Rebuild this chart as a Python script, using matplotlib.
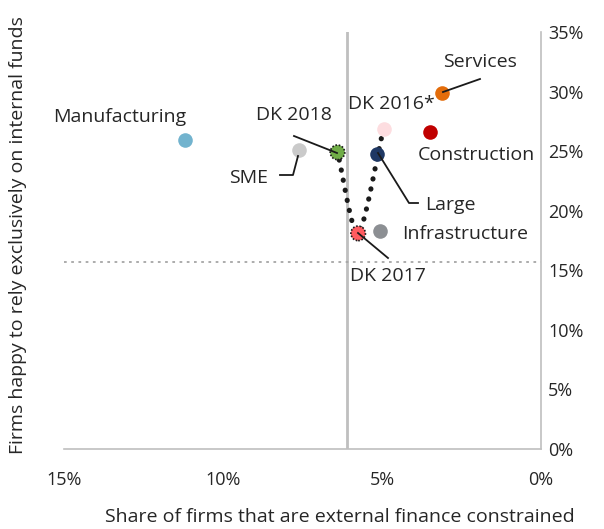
import numpy as np
import matplotlib
matplotlib.use("Agg")
import matplotlib.pyplot as plt
from matplotlib.lines import Line2D

plt.rcParams['font.family'] = ['Open Sans', 'DejaVu Sans']

# Data (percent)
names = ["Manufacturing", "SME", "DK 2018", "DK 2017", "DK 2016*", "Large",
         "Infrastructure", "Construction", "Services"]
x_constrained = [11.2, 7.6, 6.4, 5.75, 4.95, 5.15, 5.05, 3.5, 3.1]
y_internal = [25.9, 25.1, 24.9, 18.1, 26.9, 24.8, 18.3, 26.6, 29.9]
colors = ["#72B3CE", "#CACACA", "#70AD47", "#FF5B60", "#FDDDE0", "#1F3864",
          "#8C8F93", "#C00000", "#E36C0A"]
dk_order = ["DK 2016*", "DK 2017", "DK 2018"]
vline_x = 6.1
hline_y = 15.7
xticks = [15, 10, 5, 0]
yticks = [0, 5, 10, 15, 20, 25, 30, 35]

fig = plt.figure(figsize=(6.04, 5.29), dpi=100)
ax = fig.add_axes([64/604, 1-449/529, (541-64)/604, (449-32)/529])
ax.set_xlim(15, 0)
ax.set_ylim(0, 35)

grey = "#BFBFBF"
ax.axvline(vline_x, color=grey, lw=2, zorder=1)
ax.axhline(hline_y, color="#A6A6A6", lw=1.3, ls=(0, (1.5, 2.5)), zorder=1)

# smoothed dotted line through DK points (cardinal spline)
idx = [names.index(n) for n in dk_order]
P = np.array([[x_constrained[i], y_internal[i]] for i in idx])
ext = np.vstack([P[0] - (P[1] - P[0]), P, P[-1] + (P[-1] - P[-2])])
tens = 0.8
curve = []
for k in range(1, len(ext) - 2):
    p0, p1, p2, p3 = ext[k-1], ext[k], ext[k+1], ext[k+2]
    m1 = tens * (p2 - p0) / 2
    m2 = tens * (p3 - p1) / 2
    for t in np.linspace(0, 1, 40):
        h00 = 2*t**3 - 3*t**2 + 1
        h10 = t**3 - 2*t**2 + t
        h01 = -2*t**3 + 3*t**2
        h11 = t**3 - t**2
        curve.append(h00*p1 + h10*m1 + h01*p2 + h11*m2)
curve = np.array(curve)
ax.plot(curve[:, 0], curve[:, 1], color="#1a1a1a", lw=3.7,
        ls=(0, (0.05, 1.95)), dash_capstyle='round', zorder=2)

for n, xv, yv, c in zip(names, x_constrained, y_internal, colors):
    if n in ("DK 2018", "DK 2017"):
        ax.scatter([xv], [yv], s=110, facecolors=c, edgecolors="#1a1a1a",
                   linewidths=1.2, linestyles=(0, (1, 1)), zorder=5)
    else:
        ax.plot(xv, yv, 'o', ms=10.5, mfc=c, mec=c, mew=0, zorder=4)

fs = 14
tfs = 13
tc = "#262626"

labels = {
    "Manufacturing": (120, 117, None),
    "SME": (249, 178, [(280, 175), (293, 175), (298, 156)]),
    "DK 2018": (294, 115, [(294, 136), (337, 153)]),
    "DK 2017": (388, 276, [(388, 258), (358, 233)]),
    "DK 2016*": (391, 104, None),
    "Large": (450, 205, [(418, 203), (409, 203), (378, 153)]),
    "Infrastructure": (465, 234, None),
    "Construction": (476, 155, None),
    "Services": (480, 62, [(480, 79), (443, 92)]),
}
for n, (lx, ly, pts) in labels.items():
    fig.text(lx/604, 1-ly/529, n, ha='center', va='center', fontsize=fs, color=tc)
    if pts:
        xs = [p[0]/604 for p in pts]
        ys = [1 - p[1]/529 for p in pts]
        fig.add_artist(Line2D(xs, ys, color="#1a1a1a", lw=1.3,
                              transform=fig.transFigure, zorder=6))

ax.set_xticks(xticks)
ax.set_xticklabels([f"{t}%" for t in xticks])
ax.set_yticks(yticks)
ax.set_yticklabels([f"{t}%" for t in yticks])
ax.yaxis.tick_right()
ax.tick_params(axis='both', length=0, labelsize=tfs, colors=tc)
ax.tick_params(axis='x', pad=16)
ax.tick_params(axis='y', pad=5)
for s in ("top", "left"):
    ax.spines[s].set_visible(False)
for s in ("bottom", "right"):
    ax.spines[s].set_color(grey)
    ax.spines[s].set_linewidth(1.2)

fig.text(340/604, 1-517/529, "Share of firms that are external finance constrained",
         ha='center', va='center', fontsize=fs, color=tc)
fig.text(18/604, 1-235/529, "Firms happy to rely exclusively on internal funds",
         ha='center', va='center', fontsize=fs, color=tc, rotation=90)

fig.savefig("out.png", dpi=100)
